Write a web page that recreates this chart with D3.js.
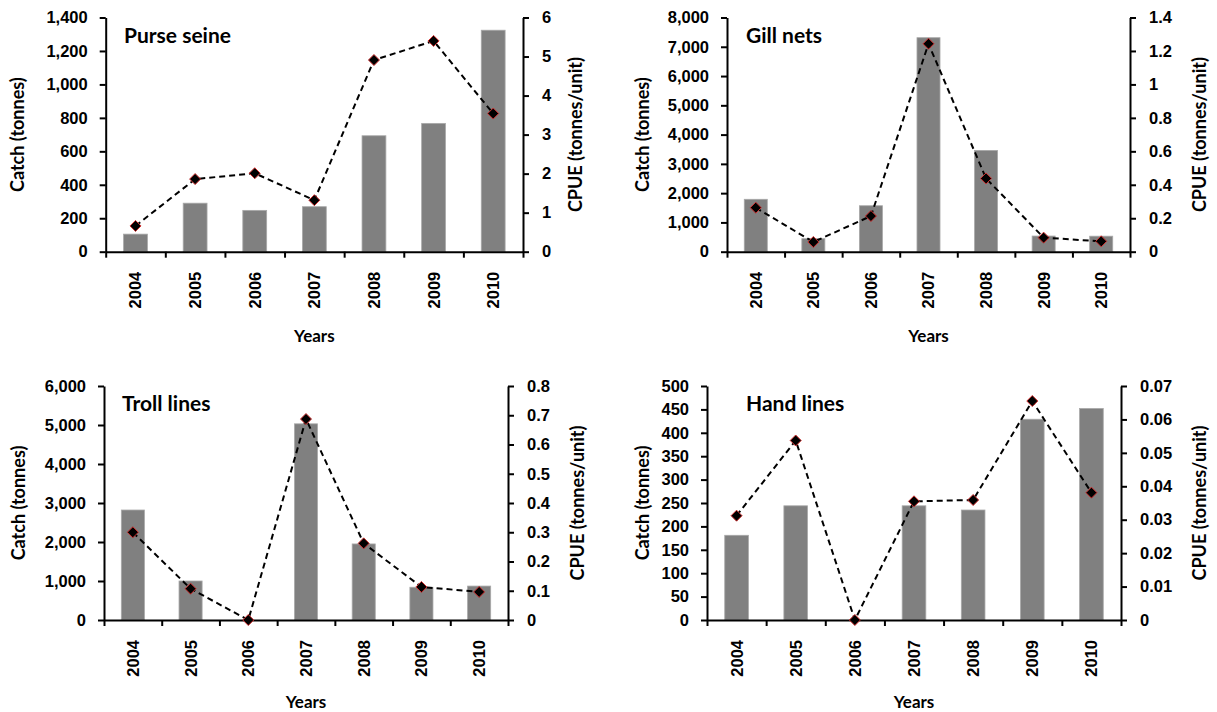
<!DOCTYPE html>
<html>
<head>
<meta charset="utf-8">
<script src="https://cdn.jsdelivr.net/npm/d3@7"></script>
<style>
  body { margin: 0; background: #fff; }
  svg { display: block; font-family: Lato, "Open Sans", sans-serif; font-weight: bold; }
  .axis text { font-size: 16.5px; font-weight: bold; fill: #000; }
  .axis path, .axis line { stroke: #000; stroke-width: 2; }
</style>
</head>
<body>
<svg width="1217" height="712"></svg>
<script>
// values
var years = ["2004", "2005", "2006", "2007", "2008", "2009", "2010"];
var gearNames = ["Purse seine", "Gill nets", "Troll lines", "Hand lines"];

var purseCatch = [105, 290, 247, 269, 693, 767, 1324];
var purseCpue  = [0.66, 1.86, 2.01, 1.32, 4.91, 5.40, 3.54];
var gillCatch  = [1790, 445, 1570, 7310, 3460, 535, 530];
var gillCpue   = [0.263, 0.058, 0.213, 1.243, 0.438, 0.084, 0.062];
var trollCatch = [2820, 1000, 0, 5030, 1950, 840, 870];
var trollCpue  = [0.30, 0.107, 0, 0.687, 0.262, 0.113, 0.096];
var handCatch  = [181, 244, 0, 244, 235, 429, 452];
var handCpue   = [0.0312, 0.0537, 0, 0.0355, 0.0359, 0.0655, 0.0381];

var catchMax   = [1400, 8000, 6000, 500];
var catchTicks = [7, 8, 6, 10];
var cpueMax    = [6, 1.4, 0.8, 0.07];
var cpueTicks  = [6, 7, 8, 7];

var catchSeries = [purseCatch, gillCatch, trollCatch, handCatch];
var cpueSeries  = [purseCpue, gillCpue, trollCpue, handCpue];

// where each panel sits on the page
var boxes = [
  {left: 105.7, right: 523,  top: 17.5, bottom: 251.7, catchX: 18,  cpueX: 576,  titleX: 124, titleY: 43,  yearsY: 342},
  {left: 727,   right: 1130, top: 17.5, bottom: 251.7, catchX: 643, cpueX: 1200, titleX: 746, titleY: 43,  yearsY: 342},
  {left: 104,   right: 508,  top: 386,  bottom: 620,   catchX: 19,  cpueX: 578,  titleX: 122, titleY: 411, yearsY: 708},
  {left: 707,   right: 1121, top: 386,  bottom: 620,   catchX: 643, cpueX: 1200, titleX: 746, titleY: 411, yearsY: 708}
];

var svg = d3.select("svg");

gearNames.forEach(function(name, i){
  var b = boxes[i];
  var g = svg.append("g");

  var x = d3.scaleBand().domain(years).range([b.left, b.right])
      .paddingInner(0.6).paddingOuter(0.3);
  var edges = d3.scaleLinear().domain([0, years.length]).range([b.left, b.right]);
  var y = d3.scaleLinear().domain([0, catchMax[i]]).range([b.bottom, b.top]);
  var y2 = d3.scaleLinear().domain([0, cpueMax[i]]).range([b.bottom, b.top]);

  var rows = years.map(function(yr, k){ return {year: yr, c: catchSeries[i][k], u: cpueSeries[i][k]}; });

  // bars
  g.selectAll("rect.bar").data(rows).enter()
    .append("rect")
    .attr("class", "bar")
    .attr("x", function(d){ return x(d.year); })
    .attr("width", x.bandwidth())
    .attr("y", function(d){ return y(d.c); })
    .attr("height", function(d){ return b.bottom - y(d.c); })
    .attr("fill", "#808080")
    .attr("stroke", "#a8a8a8")
    .attr("stroke-width", 0.8);

  // axes
  g.append("g").attr("class", "axis")
    .attr("transform", "translate(" + b.left + ",0)")
    .call(d3.axisLeft(y).ticks(catchTicks[i]).tickFormat(d3.format(",")).tickSize(6).tickSizeOuter(0).tickPadding(12));

  g.append("g").attr("class", "axis")
    .attr("transform", "translate(" + b.right + ",0)")
    .call(d3.axisRight(y2).ticks(cpueTicks[i]).tickFormat(d3.format("~g")).tickSize(6).tickSizeOuter(0).tickPadding(13));

  g.append("g").attr("class", "axis")
    .attr("transform", "translate(0," + b.bottom + ")")
    .call(d3.axisBottom(edges).ticks(years.length).tickFormat("").tickSize(6).tickSizeOuter(0));

  var xa = g.append("g").attr("class", "axis")
    .attr("transform", "translate(0," + b.bottom + ")")
    .call(d3.axisBottom(x).tickSize(0));
  xa.select(".domain").remove();
  xa.selectAll("text")
    .attr("transform", "rotate(-90)")
    .attr("x", -20).attr("y", 0).attr("dy", "0.36em")
    .style("text-anchor", "end");

  // CPUE line
  var line = d3.line()
      .x(function(d){ return x(d.year) + x.bandwidth() / 2; })
      .y(function(d){ return y2(d.u); });
  g.append("path").datum(rows)
    .attr("d", line)
    .attr("fill", "none")
    .attr("stroke", "#000")
    .attr("stroke-width", 2)
    .attr("stroke-dasharray", "6,4");

  g.selectAll("path.mark").data(rows).enter()
    .append("path")
    .attr("class", "mark")
    .attr("transform", function(d){ return "translate(" + (x(d.year) + x.bandwidth() / 2) + "," + y2(d.u) + ")"; })
    .attr("d", "M0,-5.5L5.5,0L0,5.5L-5.5,0Z")
    .attr("fill", "#000")
    .attr("stroke", "#d03030")
    .attr("stroke-width", 1);

  // texts
  g.append("text").attr("x", b.titleX).attr("y", b.titleY)
    .style("font-size", "21px").text(name);

  g.append("text").attr("x", (b.left + b.right) / 2).attr("y", b.yearsY)
    .attr("text-anchor", "middle").style("font-size", "17px").text("Years");

  g.append("text")
    .attr("transform", "translate(" + b.catchX + "," + (b.top + b.bottom) / 2 + ") rotate(-90)")
    .attr("text-anchor", "middle").attr("dy", "0.35em")
    .style("font-size", "18px").text("Catch (tonnes)");

  g.append("text")
    .attr("transform", "translate(" + b.cpueX + "," + (b.top + b.bottom) / 2 + ") rotate(-90)")
    .attr("text-anchor", "middle").attr("dy", "0.35em")
    .style("font-size", "18px").text("CPUE (tonnes/unit)");
});
</script>
</body>
</html>
